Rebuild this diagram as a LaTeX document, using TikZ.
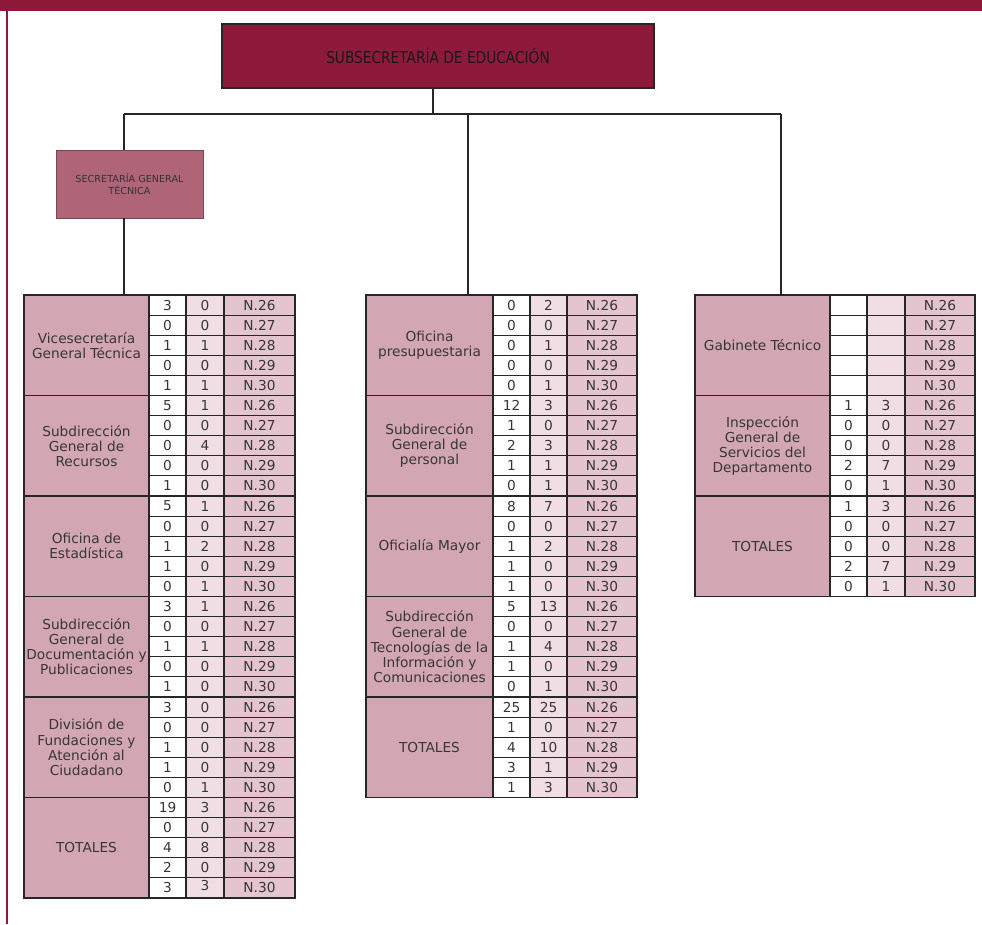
\documentclass[tikz,border=0pt]{standalone}
\usepackage{fontspec}
\setmainfont{DejaVu Sans}
\newfontfamily\estrecha[FakeStretch=0.84]{DejaVu Sans}
\usetikzlibrary{positioning}
\definecolor{granate} {RGB}{142,26,59}
\definecolor{rosaosc} {RGB}{176,100,120}
\definecolor{etiqcol} {RGB}{211,166,179}
\definecolor{celdaB}  {RGB}{240,222,228}
\definecolor{celdaC}  {RGB}{228,196,206}
\definecolor{textocol}{RGB}{55,55,55}
\newcommand{\px}{0.02cm}
\newcommand{\rh}{20.1}
% un bloque de la tabla: nombre, y de arriba, etiqueta, valores a/b
\newcommand{\bloque}[4]{%
  \node[etiq,minimum width=\wl*\px] (#1) at (\xo,#2) {#3};
  \foreach \a/\b [count=\i] in {#4} {
    \pgfmathtruncatemacro{\nn}{25+\i}
    \node[celda,fill=white,minimum width=\wa*\px] (#1a\i) at (\xo+\wl,#2+\i*\rh-\rh) {\a};
    \node[celda,fill=celdaB,minimum width=\wb*\px] (#1b\i) at (\xo+\wl+\wa,#2+\i*\rh-\rh) {\b};
    \node[celda,fill=celdaC,minimum width=\wc*\px] (#1c\i) at (\xo+\wl+\wa+\wb,#2+\i*\rh-\rh) {N.\nn};
  }%
}

\begin{document}
\begin{tikzpicture}[x=0.02cm,y=-0.02cm,
  caja/.style={rectangle,draw=black!80,line width=0.6pt,inner sep=2pt,outer sep=0pt,align=center},
  etiq/.style={rectangle,draw=black!85,fill=etiqcol,line width=0.6pt,anchor=north west,
               minimum height=5*\rh*\px,inner sep=1pt,outer sep=0pt,align=center,
               font=\fontsize{7.8}{8.6}\selectfont,text=textocol},
  celda/.style={rectangle,draw=black!85,line width=0.6pt,anchor=north west,
                minimum height=\rh*\px,inner sep=0pt,outer sep=0pt,
                font=\fontsize{7.8}{8.6}\selectfont,text=textocol},
  linea/.style={draw=black!85,line width=0.6pt}
]
\useasboundingbox (0,0) rectangle (982,924);
\fill[granate] (0,0) rectangle (982,11);
\fill[granate] (5.5,0) rectangle (7.5,924);

\node[caja,fill=granate,draw=black!85,minimum width=432*\px,minimum height=64*\px,
      font=\estrecha\fontsize{9.3}{11}\selectfont,text=black!90] (sub) at (438,56)
  {SUBSECRETARÍA DE EDUCACIÓN};
\node[caja,fill=rosaosc,draw=rosaosc!70!black,line width=0.4pt,minimum width=147*\px,
      minimum height=68*\px,font=\fontsize{5.5}{6.4}\selectfont,text=black!80] (sgt) at (129.5,184)
  {SECRETARÍA GENERAL\\TÉCNICA};

% tabla izquierda
\def\xo{24}\def\wl{125}\def\wa{37}\def\wb{38}\def\wc{71}
\bloque{vice}{295}{Vicesecretaría\\General Técnica}{3/0,0/0,1/1,0/0,1/1}
\bloque{recur}{395.5}{Subdirección\\General de\\Recursos}{5/1,0/0,0/4,0/0,1/0}
\bloque{estad}{496}{Oficina de\\Estadística}{5/1,0/0,1/2,1/0,0/1}
\bloque{docu}{596.5}{Subdirección\\General de\\Documentación y\\Publicaciones}{3/1,0/0,1/1,0/0,1/0}
\bloque{fund}{697}{División de\\Fundaciones y\\Atención al\\Ciudadano}{3/0,0/0,1/0,1/0,0/1}
\bloque{totI}{797.5}{TOTALES}{19/3,0/0,4/8,2/0,3/{\raisebox{3pt}{3}}}

% tabla central
\def\xo{366}\def\wl{127}\def\wa{37}\def\wb{37}\def\wc{70}
\bloque{ofpre}{295}{Oficina\\presupuestaria}{0/2,0/0,0/1,0/0,0/1}
\bloque{perso}{395.5}{Subdirección\\General de\\personal}{12/3,1/0,2/3,1/1,0/1}
\bloque{ofmay}{496}{Oficialía Mayor}{8/7,0/0,1/2,1/0,1/0}
\bloque{tecno}{596.5}{Subdirección\\General de\\Tecnologías de la\\Información y\\Comunicaciones}{5/13,0/0,1/4,1/0,0/1}
\bloque{totC}{697}{TOTALES}{25/25,1/0,4/10,3/1,1/3}

% tabla derecha
\def\xo{695}\def\wl{135}\def\wa{37}\def\wb{38}\def\wc{70}
\bloque{gab}{295}{Gabinete Técnico}{~/~,~/~,~/~,~/~,~/~}
\bloque{insp}{395.5}{Inspección\\General de\\Servicios del\\Departamento}{1/3,0/0,0/0,2/7,0/1}
\bloque{totD}{496}{TOTALES}{1/3,0/0,0/0,2/7,0/1}

% conectores
\coordinate (raiz)  at (433,114);
\coordinate (ramaI) at (124,114);
\coordinate (ramaC) at (468,114);
\coordinate (ramaD) at (781,114);
\draw[linea] (raiz |- sub.south) -- (raiz);
\draw[linea] (ramaI) -- (ramaD);
\draw[linea] (ramaI) -- (ramaI |- sgt.north);
\draw[linea] (ramaI |- sgt.south) -- (ramaI |- vice.north);
\draw[linea] (ramaC) -- (ramaC |- ofpre.north);
\draw[linea] (ramaD) -- (ramaD |- gab.north);
\end{tikzpicture}
\end{document}
